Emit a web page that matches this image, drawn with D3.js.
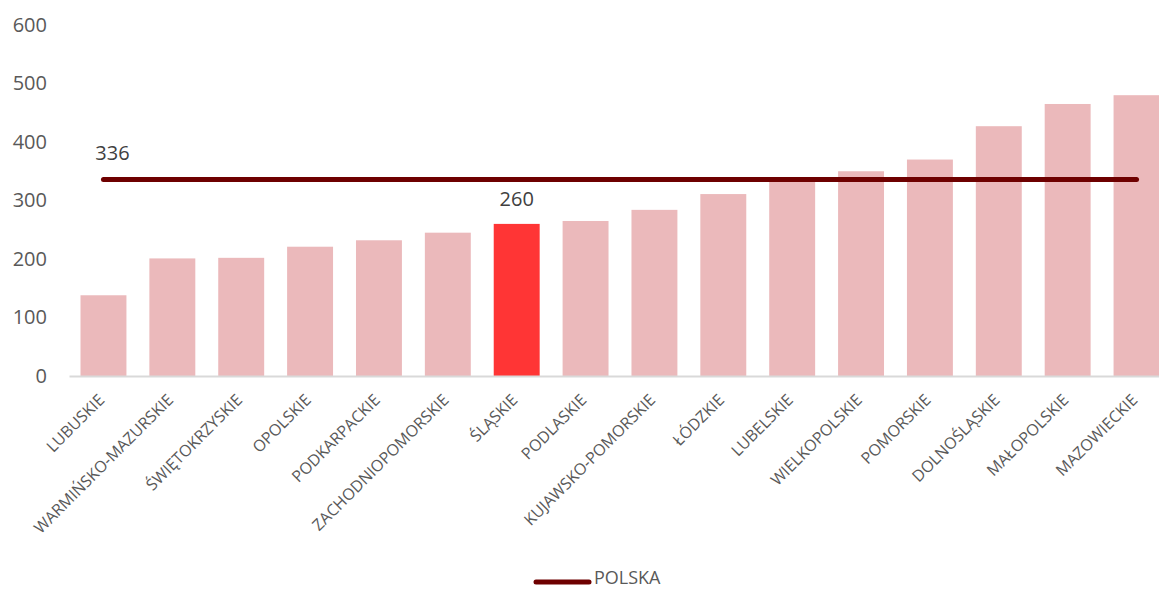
<!DOCTYPE html>
<html>
<head>
<meta charset="utf-8">
<script src="https://cdn.jsdelivr.net/npm/d3@7"></script>
<style>
  html, body { margin: 0; padding: 0; background: #fff; overflow: hidden; }
  svg { display: block; font-family: "Open Sans", "Noto Sans", sans-serif; }
</style>
</head>
<body>
<svg id="chart" width="1159" height="590"></svg>
<script>
'use strict';

// ── Data ────────────────────────────────────────────────────
const regions = [
  'LUBUSKIE', 'WARMIŃSKO-MAZURSKIE', 'ŚWIĘTOKRZYSKIE', 'OPOLSKIE',
  'PODKARPACKIE', 'ZACHODNIOPOMORSKIE', 'ŚLĄSKIE', 'PODLASKIE',
  'KUJAWSKO-POMORSKIE', 'ŁÓDZKIE', 'LUBELSKIE', 'WIELKOPOLSKIE',
  'POMORSKIE', 'DOLNOŚLĄSKIE', 'MAŁOPOLSKIE', 'MAZOWIECKIE'
];
const regionValues = [138, 201, 202, 221, 232, 245, 260, 265, 284, 311, 339, 350, 370, 427, 465, 480];
const polskaValues = [336, 336, 336, 336, 336, 336, 336, 336, 336, 336, 336, 336, 336, 336, 336, 336];
const yTicks = [0, 100, 200, 300, 400, 500, 600];
const highlighted = 'ŚLĄSKIE';
const legendLabel = 'POLSKA';

// ── Colours ─────────────────────────────────────────────────
const BAR = '#ebb9bb';
const BAR_HI = '#ff3535';
const LINE = '#6e0000';
const TEXT = '#595959';
const LABEL = '#404040';

const svg = d3.select('#chart');

// ── Scales ──────────────────────────────────────────────────
const x = d3.scaleBand()
  .domain(regions)
  .range([69, 1171])
  .paddingInner(0.333)
  .paddingOuter(0.167);

const y = d3.scaleLinear()
  .domain([0, 600])
  .range([376, 25]);

const rows = regions.map((r, i) => ({ region: r, value: regionValues[i], polska: polskaValues[i] }));

// ── Y axis (labels only) ────────────────────────────────────
const yAxis = svg.append('g')
  .attr('transform', 'translate(69,0)')
  .call(d3.axisLeft(y).tickValues(yTicks).tickSize(0).tickPadding(22));
yAxis.select('.domain').remove();
yAxis.selectAll('text')
  .attr('fill', TEXT)
  .attr('font-size', 20)
  .attr('font-family', '"Open Sans", sans-serif');

// ── Bars ────────────────────────────────────────────────────
svg.append('g').selectAll('rect')
  .data(rows)
  .join('rect')
  .attr('x', d => x(d.region))
  .attr('y', d => y(d.value))
  .attr('width', x.bandwidth())
  .attr('height', d => y(0) - y(d.value))
  .attr('fill', d => d.region === highlighted ? BAR_HI : BAR);

// ── X axis line + rotated labels ────────────────────────────
const xAxis = svg.append('g')
  .attr('transform', `translate(0,${y(0)})`)
  .call(d3.axisBottom(x).tickSize(0).tickSizeOuter(0).tickPadding(0));
xAxis.select('.domain')
  .attr('stroke', '#d9d9d9')
  .attr('stroke-width', 2);
xAxis.selectAll('text')
  .attr('fill', TEXT)
  .attr('font-size', 16)
  .attr('font-family', '"Open Sans", sans-serif')
  .attr('text-anchor', 'end')
  .attr('dy', '0.35em')
  .attr('transform', 'translate(-2,21) rotate(-45)');

// ── POLSKA line ─────────────────────────────────────────────
const line = d3.line()
  .x(d => x(d.region) + x.bandwidth() / 2)
  .y(d => y(d.polska));

svg.append('path')
  .datum(rows)
  .attr('d', line)
  .attr('fill', 'none')
  .attr('stroke', LINE)
  .attr('stroke-width', 5)
  .attr('stroke-linecap', 'round');

// ── Data labels ─────────────────────────────────────────────
svg.append('text')
  .attr('x', x(regions[0]) + x.bandwidth() / 2 + 9)
  .attr('y', y(polskaValues[0]) - 19)
  .attr('text-anchor', 'middle')
  .attr('fill', LABEL)
  .attr('font-size', 20)
  .text(polskaValues[0]);

const hiRow = rows.find(d => d.region === highlighted);
svg.append('text')
  .attr('x', x(hiRow.region) + x.bandwidth() / 2)
  .attr('y', y(hiRow.value) - 18)
  .attr('text-anchor', 'middle')
  .attr('fill', LABEL)
  .attr('font-size', 20)
  .text(hiRow.value);

// ── Legend ──────────────────────────────────────────────────
const legend = svg.append('g').attr('transform', 'translate(536,578)');
legend.append('line')
  .attr('x1', 0).attr('x2', 53)
  .attr('y1', 4).attr('y2', 4)
  .attr('stroke', LINE)
  .attr('stroke-width', 5)
  .attr('stroke-linecap', 'round');
legend.append('text')
  .attr('x', 58)
  .attr('y', 6)
  .attr('fill', TEXT)
  .attr('font-size', 18)
  .text(legendLabel);
</script>
</body>
</html>
